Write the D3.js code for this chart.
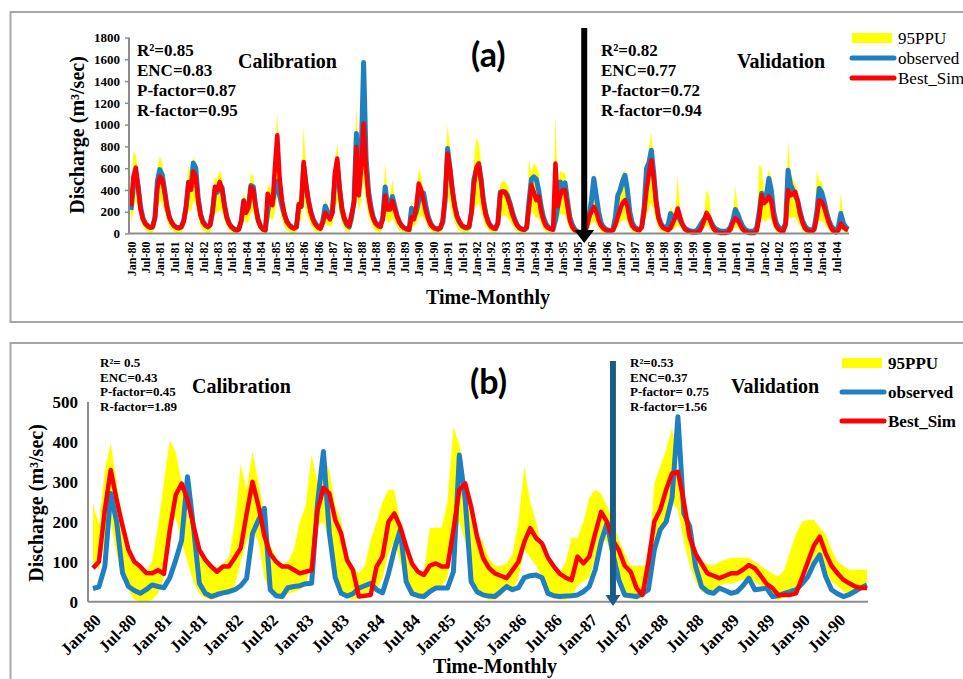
<!DOCTYPE html>
<html>
<head>
<meta charset="utf-8">
<script src="https://cdn.jsdelivr.net/npm/d3@7"></script>
<style>
  body { margin: 0; background: #fff; }
  text { font-family: "Liberation Serif", "Times New Roman", serif; }
</style>
</head>
<body>
<div id="chart"></div>
<script>
// ---- panel (a): monthly Jan-80 .. Dec-04 ----
const tickLabelsA = ["Jan-80","Jul-80","Jan-81","Jul-81","Jan-82","Jul-82","Jan-83","Jul-83","Jan-84","Jul-84",
  "Jan-85","Jul-85","Jan-86","Jul-86","Jan-87","Jul-87","Jan-88","Jul-88","Jan-89","Jul-89",
  "Jan-90","Jul-90","Jan-91","Jul-91","Jan-92","Jul-92","Jan-93","Jul-93","Jan-94","Jul-94",
  "Jan-95","Jul-95","Jan-96","Jul-96","Jan-97","Jul-97","Jan-98","Jul-98","Jan-99","Jul-99",
  "Jan-00","Jul-00","Jan-01","Jul-01","Jan-02","Jul-02","Jan-03","Jul-03","Jan-04","Jul-04"];
const yTicksA = [0, 200, 400, 600, 800, 1000, 1200, 1400, 1600, 1800];

const observedA = [
  215,430,560,430,240,140,90,65,55,60,150,480,
  587,540,400,250,150,100,70,55,50,60,120,250,
  470,420,648,600,330,180,110,80,60,80,200,400,
  380,450,420,260,150,90,60,40,30,40,120,300,
  200,250,440,430,250,130,70,40,30,200,330,280,
  400,480,350,250,170,110,80,60,50,60,260,250,
  620,450,300,200,130,90,60,50,120,250,200,150,
  200,480,650,400,220,130,80,60,150,300,918,500,
  700,1570,700,400,250,150,100,80,70,150,428,250,
  250,340,250,160,100,70,50,40,35,232,150,200,
  300,350,370,250,150,90,60,45,40,50,100,300,
  780,600,400,250,150,100,70,55,50,60,200,500,
  582,640,500,300,180,110,70,50,45,100,380,380,
  380,350,280,200,130,80,50,40,35,50,300,500,
  520,500,400,250,150,90,60,45,40,120,250,474,
  410,465,300,150,80,40,20,15,10,20,60,150,
  300,505,350,200,100,60,40,30,25,40,150,350,
  400,480,535,400,200,100,60,40,35,60,250,600,
  650,765,550,300,150,90,60,50,80,183,150,150,
  180,120,80,50,35,25,20,20,30,60,100,130,
  160,150,100,60,40,30,20,20,20,30,60,120,
  220,180,120,70,40,25,20,20,25,60,200,370,
  300,350,505,400,200,100,60,40,40,100,580,450,
  400,350,300,200,120,70,45,35,30,60,200,413,
  380,300,200,120,70,40,30,60,183,100,60,40];
const bestSimA = [
  250,520,605,420,220,130,90,70,55,60,140,420,
  520,500,380,240,150,100,70,55,50,60,110,250,
  470,400,570,520,300,170,100,75,60,80,200,430,
  400,474,400,250,140,85,55,40,30,40,120,300,
  190,240,428,400,240,120,65,40,30,365,300,260,
  600,902,500,300,180,110,75,55,45,60,270,250,
  657,450,300,190,120,80,55,45,100,190,160,130,
  190,550,688,420,230,140,90,70,180,275,795,350,
  600,1010,600,350,220,140,90,70,60,130,350,220,
  220,300,220,150,100,70,50,40,35,150,130,250,
  459,400,300,200,130,80,55,45,40,50,120,350,
  734,600,400,250,160,110,75,60,55,65,200,450,
  600,642,480,280,170,100,65,50,45,90,367,388,
  380,330,260,180,120,75,50,40,35,60,250,443,
  380,306,340,200,120,70,50,40,35,642,250,350,
  400,397,250,120,60,30,15,10,5,10,60,150,
  200,244,200,120,70,45,30,25,20,30,80,150,
  220,280,306,250,130,70,45,35,30,60,200,400,
  550,673,500,280,140,80,50,40,30,50,100,150,
  230,150,80,40,25,15,10,10,10,20,60,120,
  190,150,90,40,20,10,5,5,5,10,40,100,
  138,120,80,40,20,10,5,5,5,30,150,352,
  280,300,340,300,150,70,40,25,20,80,398,350,
  360,383,300,180,100,50,30,20,15,40,150,306,
  290,250,170,100,50,20,10,30,92,60,40,30];
const upperA = [
  300,750,720,550,330,200,130,100,90,110,250,600,
  710,650,500,330,200,140,100,80,70,90,200,400,
  620,550,700,650,400,230,150,110,90,110,300,520,
  500,580,520,350,200,130,90,70,60,70,200,380,
  300,330,560,520,330,180,110,70,60,450,420,380,
  700,1116,600,350,230,150,110,80,70,90,350,350,
  985,600,400,270,180,120,90,80,200,300,260,220,
  280,650,830,550,300,180,120,90,250,400,1178,700,
  900,1300,900,500,320,200,130,100,90,250,643,350,
  330,500,320,220,140,100,70,60,50,300,200,300,
  600,520,400,280,180,120,80,65,60,70,200,500,
  1000,800,550,350,220,150,100,80,70,90,300,650,
  880,830,650,400,250,150,100,70,60,150,450,480,
  480,450,360,260,170,110,70,55,50,80,673,560,
  640,620,560,330,200,120,80,60,55,1085,350,580,
  550,560,380,200,110,60,35,25,20,30,90,220,
  400,560,420,260,140,80,55,40,35,60,200,420,
  480,560,580,480,260,140,80,55,45,80,320,615,
  800,933,650,380,200,120,80,65,100,250,200,200,
  540,200,120,80,55,40,30,30,40,80,130,170,
  400,350,150,90,60,45,30,30,30,45,90,160,
  430,260,170,100,60,40,30,30,35,80,637,600,
  380,420,600,500,260,130,80,55,55,130,857,550,
  500,460,380,260,160,90,60,45,40,80,580,480,
  480,380,260,160,90,55,40,80,375,150,80,60];
const lowerA = [
  100,200,300,250,120,60,30,15,5,10,60,200,
  300,280,200,120,60,30,15,5,0,10,50,120,
  220,200,300,280,150,70,30,15,5,10,80,200,
  180,220,200,120,60,30,10,0,0,5,50,150,
  90,110,200,200,110,50,20,5,0,80,150,120,
  200,350,220,120,60,30,15,5,0,10,110,110,
  300,200,130,80,40,20,10,5,40,90,80,60,
  80,220,300,180,90,40,20,10,60,120,400,200,
  300,500,300,170,100,50,25,10,5,60,180,100,
  100,140,100,60,30,15,5,0,0,60,60,90,
  150,160,150,100,50,25,10,5,0,10,40,130,
  350,270,170,100,50,25,10,5,0,10,80,200,
  260,280,210,120,60,30,10,5,0,30,160,160,
  160,150,110,80,40,20,5,0,0,10,100,200,
  180,140,150,90,40,20,5,0,0,200,100,180,
  170,180,100,40,15,5,0,0,0,0,20,60,
  90,110,90,50,20,10,5,0,0,5,30,70,
  100,120,130,100,50,20,10,5,0,10,80,170,
  230,280,210,110,50,20,10,5,10,20,40,50,
  80,50,30,10,5,0,0,0,0,5,20,50,
  70,60,30,10,5,0,0,0,0,0,10,40,
  50,50,30,10,5,0,0,0,0,10,60,140,
  110,120,140,120,60,20,5,0,0,30,150,140,
  140,150,110,70,30,10,5,0,0,10,60,120,
  110,100,60,30,10,5,0,10,40,25,10,5];
const splitA = 189;  // calibration / validation arrow
const statsCalA = ["R\u00b2=0.85", "ENC=0.83", "P-factor=0.87", "R-factor=0.95"];
const statsValA = ["R\u00b2=0.82", "ENC=0.77", "P-factor=0.72", "R-factor=0.94"];

// ---- panel (b): monthly Jan-80 .. Dec-90 ----
const tickLabelsB = tickLabelsA.slice(0, 22);
const yTicksB = [0, 100, 200, 300, 400, 500];
const observedB = [
  33,37,88,271,200,72,38,28,21,30,42,38,
  35,60,104,154,313,188,46,21,13,18,22,25,
  30,40,58,171,204,234,30,15,13,35,38,40,
  45,46,246,376,172,60,21,14,20,34,40,46,
  30,22,70,130,180,50,20,15,13,25,34,34,
  34,75,367,255,50,25,17,14,13,25,38,30,
  35,60,65,67,60,21,15,13,14,15,17,25,
  38,80,150,197,120,54,17,15,13,20,30,130,
  180,200,260,463,221,188,88,38,25,21,34,28,
  21,25,40,59,30,32,34,13,15,21,25,30,
  45,63,95,117,63,30,20,13,18,26,35,42];
const bestSimB = [
  84,100,230,330,255,190,130,100,88,72,71,79,
  70,180,267,296,255,190,130,105,88,75,88,88,
  110,134,220,300,240,165,120,100,88,88,80,71,
  75,79,229,285,271,205,171,104,79,13,15,17,
  88,113,200,221,188,138,95,75,67,90,96,88,
  88,180,280,296,238,163,110,85,71,65,59,79,
  100,150,184,159,146,110,88,70,60,54,113,96,
  113,171,225,200,154,129,90,75,34,17,100,200,
  230,280,321,325,250,160,120,95,71,65,59,65,
  71,71,80,92,84,65,45,34,17,17,17,21,
  60,100,140,163,121,90,71,55,46,38,34,34];
const upperB = [
  246,190,330,397,300,200,140,105,88,75,100,190,
  300,404,375,300,220,160,120,100,90,85,95,110,
  200,345,280,376,300,220,140,110,95,100,130,200,
  240,367,300,365,330,240,200,113,90,70,90,155,
  200,250,280,280,200,150,100,80,75,185,185,185,
  250,438,392,305,222,170,150,110,90,90,95,120,
  200,338,250,200,130,110,75,70,100,160,160,200,
  260,280,270,240,200,155,120,90,90,90,92,296,
  338,380,436,330,240,150,120,100,95,90,100,105,
  110,110,110,110,100,90,80,70,63,80,127,170,
  200,205,205,185,170,130,100,90,80,80,80,80];
const lowerB = [
  100,80,150,200,120,60,30,5,0,0,5,20,
  60,200,210,150,100,50,20,10,5,10,20,25,
  40,100,150,180,150,60,20,10,5,20,25,30,
  40,100,190,200,150,60,20,10,5,10,20,30,
  30,60,120,150,100,40,20,10,5,20,30,40,
  60,150,200,150,70,30,10,5,5,15,30,30,
  60,130,110,90,60,25,10,5,5,10,40,50,
  60,110,160,150,100,60,25,10,5,10,40,130,
  170,200,250,230,150,90,50,25,20,30,40,45,
  45,50,55,60,50,40,25,10,5,10,25,40,
  50,80,110,115,80,50,40,25,20,20,30,35];
const splitB = 88;
const statsCalB = ["R\u00b2= 0.5", "ENC=0.43", "P-factor=0.45", "R-factor=1.89"];
const statsValB = ["R\u00b2=0.53", "ENC=0.37", "P-factor= 0.75", "R-factor=1.56"];

const seriesNames = ["95PPU", "observed", "Best_Sim"];
const colors = { ppu: "#ffff00", obs: "#1f7fc1", sim: "#ff0000" };

const svg = d3.select("#chart").append("svg")
    .attr("width", 963)
    .attr("height", 679);

function drawPanel(p) {
  const g = svg.append("g");

  // frame
  g.append("rect")
      .attr("x", 10.5).attr("y", p.frameTop)
      .attr("width", 1000).attr("height", p.frameH)
      .attr("fill", "none").attr("stroke", "#a6a6a6").attr("stroke-width", 2);

  const n = p.obs.length;
  const x = d3.scaleLinear().domain([0, n - 1]).range(p.xRange);
  const y = d3.scaleLinear().domain([0, p.yMax]).range(p.yRange);
  const idx = d3.range(n);

  // 95PPU band
  g.append("path")
      .datum(idx)
      .attr("fill", colors.ppu)
      .attr("d", d3.area().x(i => x(i)).y0(i => y(p.lower[i])).y1(i => y(p.upper[i])));

  const line = vals => d3.line().x(i => x(i)).y(i => y(vals[i]))(idx);
  g.append("path").attr("d", line(p.obs)).attr("fill", "none")
      .attr("stroke", colors.obs).attr("stroke-width", p.lw).attr("stroke-linejoin", "round");
  g.append("path").attr("d", line(p.sim)).attr("fill", "none")
      .attr("stroke", colors.sim).attr("stroke-width", p.lw - 0.5).attr("stroke-linejoin", "round");

  // y axis
  const ya = g.append("g")
      .attr("transform", `translate(${p.yAxisX},0)`)
      .attr("font-family", null)
      .call(d3.axisLeft(y).tickValues(p.yTicks).tickFormat(d3.format("d"))
        .tickSize(p.yTickSize).tickSizeOuter(0).tickPadding(p.yPad));
  ya.select(".domain").attr("d", `M0,${y(0)}V${y(p.yMax)}`).attr("stroke", "#8c8c8c").attr("stroke-width", 2);
  ya.selectAll(".tick line").attr("stroke", "#8c8c8c").attr("stroke-width", 1.5);
  ya.selectAll("text")
      .style("font-family", "'Liberation Serif', serif")
      .attr("font-weight", "bold").attr("font-size", p.yFont).attr("fill", "#000");

  // x axis
  const tickIdx = p.labels.map((d, i) => i * 6);
  const xa = g.append("g")
      .attr("transform", `translate(0,${y(0)})`)
      .call(d3.axisBottom(x).tickValues(tickIdx).tickFormat((d, i) => p.labels[i]).tickSize(0).tickSizeOuter(0));
  xa.select(".domain").attr("d", `M${p.yAxisX},0H${p.xAxisEnd}`).attr("stroke", "#8c8c8c").attr("stroke-width", 2);
  xa.selectAll("text")
      .style("font-family", "'Liberation Serif', serif")
      .attr("font-weight", "bold").attr("font-size", p.xFont).attr("fill", "#000")
      .attr("text-anchor", "end")
      .attr("y", 0).attr("dy", p.xDy)
      .attr("transform", p.xLabelTransform);

  // axis titles
  g.append("text")
      .attr("transform", `translate(${p.yTitle[0]},${p.yTitle[1]}) rotate(-90)`)
      .attr("text-anchor", "middle").attr("font-weight", "bold").attr("font-size", p.yTitleSize)
      .text("Discharge (m\u00b3/sec)");
  g.append("text")
      .attr("x", p.xTitle[0]).attr("y", p.xTitle[1])
      .attr("text-anchor", "middle").attr("font-weight", "bold").attr("font-size", 20)
      .text("Time-Monthly");

  // arrow at split
  const ax = x(p.split);
  g.append("line")
      .attr("x1", ax).attr("x2", ax).attr("y1", p.arrowTop).attr("y2", p.arrowTip - p.headH + 1)
      .attr("stroke", p.arrowColor).attr("stroke-width", 6);
  g.append("path")
      .attr("d", `M${ax - p.headW / 2},${p.arrowTip - p.headH}L${ax + p.headW / 2},${p.arrowTip - p.headH}L${ax},${p.arrowTip}Z`)
      .attr("fill", p.arrowColor);

  // stats
  [[p.statsCal, p.calStatsX], [p.statsVal, p.valStatsX]].forEach(([lines, sx]) => {
    g.append("g").selectAll("text")
      .data(lines)
      .join("text")
        .attr("x", sx).attr("y", (d, i) => p.statsY + i * p.statsDy)
        .attr("font-weight", "bold").attr("font-size", p.statsSize)
        .text(d => d);
  });
  g.append("text").attr("x", p.calX).attr("y", p.headY)
      .attr("font-weight", "bold").attr("font-size", 20).text("Calibration");
  g.append("text").attr("x", p.valX).attr("y", p.headY)
      .attr("font-weight", "bold").attr("font-size", 20).text("Validation");
  g.append("text").attr("x", p.tagX).attr("y", p.tagY)
      .style("font-family", "Lato, 'Noto Sans', sans-serif")
      .attr("font-weight", "bold").attr("font-size", 34).text(p.tag);

  // legend
  const lg = g.append("g").attr("transform", `translate(${p.legX},${p.legY})`);
  lg.append("rect").attr("x", 0).attr("y", -5).attr("width", 40).attr("height", 10).attr("fill", colors.ppu);
  [colors.obs, colors.sim].forEach((c, i) => {
    lg.append("line").attr("x1", 0).attr("x2", 42)
        .attr("y1", (i + 1) * p.legDy).attr("y2", (i + 1) * p.legDy)
        .attr("stroke", c).attr("stroke-width", 5).attr("stroke-linecap", "round");
  });
  lg.selectAll("text.leg")
    .data(seriesNames)
    .join("text")
      .attr("class", "leg")
      .attr("x", 46).attr("y", (d, i) => i * p.legDy + 6)
      .attr("font-size", 17).attr("font-weight", p.legWeight)
      .text(d => d);
}

drawPanel({
  frameTop: 12, frameH: 310,
  obs: observedA, sim: bestSimA, upper: upperA, lower: lowerA,
  xRange: [131, 848], yMax: 1800, yRange: [233.5, 37.5], lw: 5,
  yAxisX: 129, yTicks: yTicksA, yTickSize: 4, yPad: 5, yFont: 13,
  labels: tickLabelsA, xAxisEnd: 849, xFont: 12, xDy: "0.35em",
  xLabelTransform: "translate(0,8) rotate(-90)",
  yTitle: [84, 135], yTitleSize: 20, xTitle: [488, 304],
  split: splitA, arrowTop: 28, arrowTip: 243, headW: 20, headH: 13, arrowColor: "#000",
  statsCal: statsCalA, statsVal: statsValA, calStatsX: 137, valStatsX: 601,
  statsY: 56, statsDy: 20, statsSize: 17,
  calX: 238, valX: 737, headY: 68, tag: "(a)", tagX: 471, tagY: 67,
  legX: 852, legY: 38, legDy: 20, legWeight: "normal"
});

drawPanel({
  frameTop: 343, frameH: 400,
  obs: observedB, sim: bestSimB, upper: upperB, lower: lowerB,
  xRange: [93, 867], yMax: 500, yRange: [601.7, 402], lw: 5,
  yAxisX: 88, yTicks: yTicksB, yTickSize: 0, yPad: 10, yFont: 17,
  labels: tickLabelsB, xAxisEnd: 868, xFont: 17, xDy: "0.3em",
  xLabelTransform: "translate(5,16) rotate(-45)",
  yTitle: [43, 503], yTitleSize: 20, xTitle: [495, 673],
  split: splitB, arrowTop: 361, arrowTip: 606, headW: 15, headH: 11, arrowColor: "#1d5b87",
  statsCal: statsCalB, statsVal: statsValB, calStatsX: 100, valStatsX: 630,
  statsY: 367, statsDy: 14.7, statsSize: 13,
  calX: 192, valX: 731, headY: 393, tag: "(b)", tagX: 470, tagY: 394,
  legX: 842, legY: 363, legDy: 29, legWeight: "bold"
});
</script>
</body>
</html>
